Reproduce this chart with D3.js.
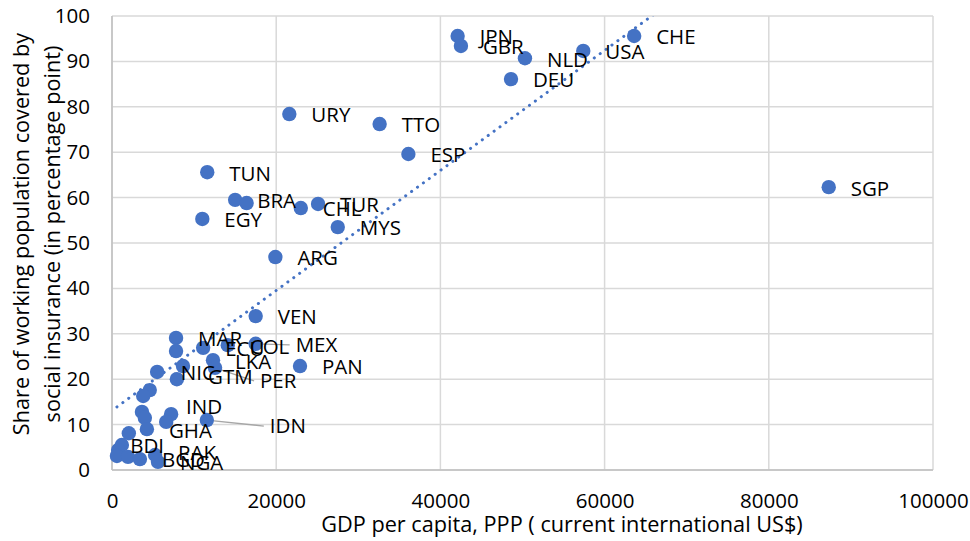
<!doctype html>
<html>
<head>
<meta charset="utf-8">
<script src="https://cdn.jsdelivr.net/npm/d3@7"></script>
<style>
  html, body { margin: 0; padding: 0; background: #ffffff; }
  svg { display: block; }
</style>
</head>
<body>
<div id="chart"></div>
<script>
// --- data ---
const countries = [
  "JPN","GBR","NLD","USA","CHE","DEU","URY","TTO","ESP","TUN",
  "BRA","","EGY","CHL","TUR","MYS","ARG","VEN","SGP","PAN",
  "MAR","","ECU","COL","MEX","LKA","NIC","GTM","PER","",
  "","","","","GHA","IND","","IDN","","",
  "BDI","","","BGD","PAK","NGA"
];
const gdpPerCapita = [
  42100, 42500, 50300, 57400, 63600, 48600, 21600, 32600, 36100, 11600,
  15000, 16400, 11000, 23000, 25100, 27500, 19900, 17500, 87300, 22900,
  7800, 7800, 11100, 14100, 17500, 12300, 7900, 8650, 12550, 5500,
  4600, 3800, 3650, 4000, 4250, 7200, 6600, 11550, 2050, 1200,
  750, 600, 1950, 3400, 5250, 5600
];
const coverage = [
  95.6, 93.4, 90.7, 92.3, 95.6, 86.1, 78.4, 76.2, 69.6, 65.6,
  59.5, 58.8, 55.3, 57.7, 58.6, 53.5, 46.9, 33.9, 62.3, 22.9,
  29.1, 26.2, 26.9, 27.5, 27.8, 24.2, 20.0, 22.9, 22.5, 21.6,
  17.6, 16.3, 12.8, 11.5, 9.0, 12.3, 10.6, 11.0, 8.1, 5.5,
  4.4, 3.1, 2.9, 2.4, 3.3, 1.8
];
const xTicks = [0, 20000, 40000, 60000, 80000, 100000];
const yTicks = [0, 10, 20, 30, 40, 50, 60, 70, 80, 90, 100];

// linear trendline as drawn in the reference
const TREND_INTERCEPT = 13.1;
const TREND_SLOPE = 0.001322;

// label placement tweaks (px) where Excel labels were dragged
const labelNudge = {
  BDI: { dx: 12, dy: -4 },
  IND: { dx: 15, dy: -8 },
  NIC: { dx: 4, dy: -7, leader: true },
  GTM: { dx: 25, dy: 11 },
  PER: { dx: 45, dy: 13, leader: true },
  MEX: { dx: 40, dy: 1, leader: true },
  IDN: { dx: 63, dy: 6, leader: true },
  PAK: { dx: 23, dy: -2 },
};

const points = countries.map((c, i) => ({ code: c, x: gdpPerCapita[i], y: coverage[i] }));

// --- layout ---
const W = 970, H = 541;
const plot = { left: 112, right: 933, top: 16, bottom: 470 };
const blue = "#4472C4";
const gridColor = "#d9d9d9";
const fontFamily = '"Open Sans", "Noto Sans", sans-serif';

const x = d3.scaleLinear().domain([0, 100000]).range([plot.left, plot.right]);
const y = d3.scaleLinear().domain([0, 100]).range([plot.bottom, plot.top]);

const svg = d3.select("#chart").append("svg")
  .attr("width", W).attr("height", H)
  .style("font-family", fontFamily);

svg.append("rect").attr("width", W).attr("height", H).attr("fill", "#fff");

svg.append("clipPath").attr("id", "plotClip")
  .append("rect")
  .attr("x", plot.left).attr("y", plot.top)
  .attr("width", plot.right - plot.left).attr("height", plot.bottom - plot.top);

// gridlines
svg.append("g").selectAll("line.hg").data(yTicks).join("line")
  .attr("x1", plot.left).attr("x2", plot.right)
  .attr("y1", d => y(d)).attr("y2", d => y(d))
  .attr("stroke", gridColor).attr("stroke-width", 1.5);

svg.append("g").selectAll("line.vg").data(xTicks).join("line")
  .attr("x1", d => x(d)).attr("x2", d => x(d))
  .attr("y1", plot.top).attr("y2", plot.bottom)
  .attr("stroke", gridColor).attr("stroke-width", 1.5);

// axis lines
svg.append("line")
  .attr("x1", plot.left).attr("x2", plot.right)
  .attr("y1", plot.bottom).attr("y2", plot.bottom)
  .attr("stroke", "#bfbfbf").attr("stroke-width", 1.5);
svg.append("line")
  .attr("x1", plot.left).attr("x2", plot.left)
  .attr("y1", plot.top).attr("y2", plot.bottom)
  .attr("stroke", "#bfbfbf").attr("stroke-width", 1.5);

// tick labels
const yAxis = d3.axisLeft(y).tickValues(yTicks).tickSize(0).tickPadding(22);
const yG = svg.append("g").attr("transform", `translate(${plot.left},0)`).call(yAxis);
yG.select(".domain").remove();
yG.selectAll("text").attr("fill", "#000").attr("font-size", 20.5).style("font-family", fontFamily);

const xAxis = d3.axisBottom(x).tickValues(xTicks).tickSize(0).tickPadding(23).tickFormat(d3.format("d"));
const xG = svg.append("g").attr("transform", `translate(0,${plot.bottom})`).call(xAxis);
xG.select(".domain").remove();
xG.selectAll("text").attr("fill", "#000").attr("font-size", 20.5).style("font-family", fontFamily);

// trendline
const xMin = d3.min(gdpPerCapita), xMax = d3.max(gdpPerCapita);
svg.append("line")
  .attr("clip-path", "url(#plotClip)")
  .attr("x1", x(xMin)).attr("y1", y(TREND_INTERCEPT + TREND_SLOPE * xMin))
  .attr("x2", x(xMax)).attr("y2", y(TREND_INTERCEPT + TREND_SLOPE * xMax))
  .attr("stroke", blue).attr("stroke-width", 3)
  .attr("stroke-linecap", "round")
  .attr("stroke-dasharray", "0.1 7.2");

// leader lines
svg.append("g").selectAll("line.leader")
  .data(points.filter(p => labelNudge[p.code] && labelNudge[p.code].leader))
  .join("line")
  .attr("x1", d => x(d.x)).attr("y1", d => y(d.y))
  .attr("x2", d => x(d.x) + labelNudge[d.code].dx - 6)
  .attr("y2", d => y(d.y) + labelNudge[d.code].dy)
  .attr("stroke", "#a6a6a6").attr("stroke-width", 1.3);

// dots
svg.append("g").selectAll("circle")
  .data(points).join("circle")
  .attr("cx", d => x(d.x)).attr("cy", d => y(d.y))
  .attr("r", 7.2)
  .attr("fill", blue);

// data labels
svg.append("g").selectAll("text.lbl")
  .data(points.filter(p => p.code)).join("text")
  .attr("class", "lbl")
  .attr("x", d => x(d.x) + (labelNudge[d.code] ? labelNudge[d.code].dx : 22))
  .attr("y", d => y(d.y) + (labelNudge[d.code] ? labelNudge[d.code].dy : 1))
  .attr("dy", "0.36em")
  .attr("fill", "#000")
  .attr("font-size", 20.5)
  .text(d => d.code);

// axis titles
svg.append("text")
  .attr("x", 562).attr("y", 532)
  .attr("text-anchor", "middle")
  .attr("fill", "#000").attr("font-size", 21.7)
  .text("GDP per capita, PPP ( current international US$)");

const yTitle = svg.append("text")
  .attr("transform", "translate(0,234) rotate(-90)")
  .attr("text-anchor", "middle")
  .attr("fill", "#000").attr("font-size", 21.7);
yTitle.append("tspan").attr("x", 0).attr("y", 29).text("Share of working population covered by");
yTitle.append("tspan").attr("x", 0).attr("y", 60).text("social insurance (in percentage point)");
</script>
</body>
</html>
